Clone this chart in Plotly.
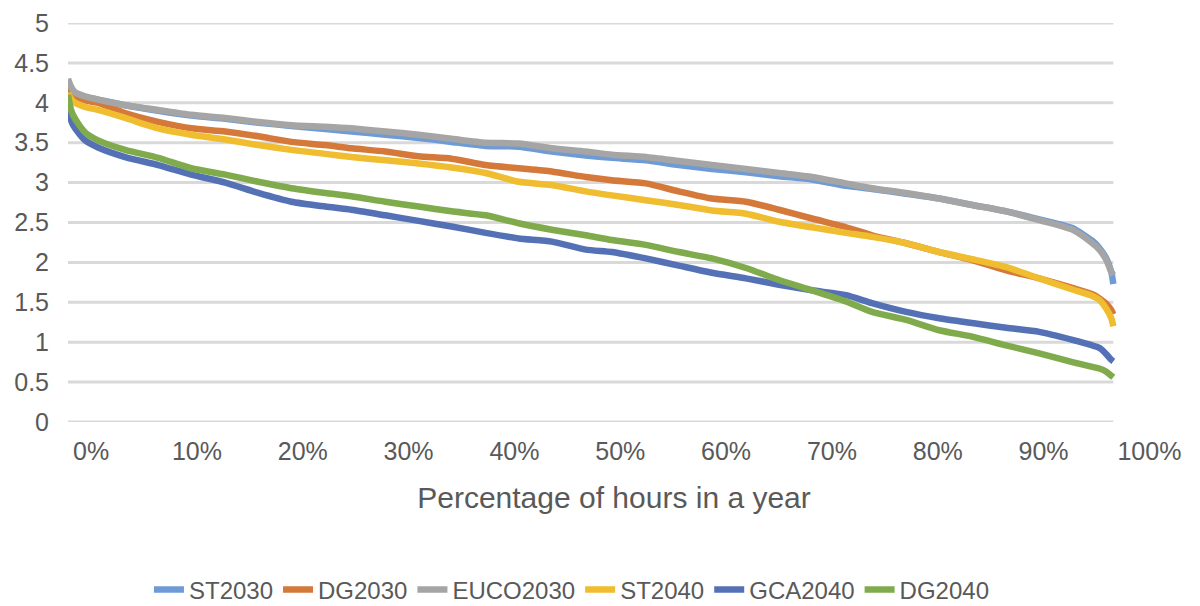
import plotly.graph_objects as go

# Percentage of hours in a year
X_PCT = [-2.18, -1.89, -1.51, -0.57, 0.66, 3.22, 6.34, 9.46, 12.68, 15.80,
         18.92, 22.14, 24.60, 27.81, 30.94, 34.06, 37.28, 40.40, 43.52, 46.74,
         49.20, 52.41, 55.53, 58.66, 61.87, 65.00, 68.12, 71.33, 73.79, 77.01,
         80.13, 83.25, 86.47, 89.59, 92.72, 94.61, 95.27, 95.93, 96.40, 96.59]

ST2030 = [4.25, 4.18, 4.12, 4.07, 4.04, 3.97, 3.90, 3.84, 3.80, 3.75,
          3.71, 3.67, 3.64, 3.60, 3.56, 3.51, 3.46, 3.45, 3.39, 3.34,
          3.31, 3.28, 3.22, 3.17, 3.13, 3.08, 3.04, 2.96, 2.92, 2.86,
          2.80, 2.72, 2.64, 2.54, 2.43, 2.27, 2.18, 2.05, 1.88, 1.73]

DG2030 = [4.22, 4.15, 4.08, 4.03, 4.00, 3.87, 3.76, 3.68, 3.64, 3.58,
          3.51, 3.47, 3.43, 3.39, 3.33, 3.30, 3.22, 3.18, 3.14, 3.07,
          3.03, 2.99, 2.89, 2.80, 2.76, 2.66, 2.55, 2.44, 2.34, 2.24,
          2.13, 2.03, 1.90, 1.80, 1.68, 1.60, 1.55, 1.48, 1.40, 1.35]

EUCO2030 = [4.30, 4.20, 4.13, 4.08, 4.04, 3.97, 3.91, 3.85, 3.81, 3.76,
            3.72, 3.70, 3.68, 3.64, 3.60, 3.55, 3.50, 3.49, 3.43, 3.39,
            3.35, 3.32, 3.27, 3.22, 3.17, 3.12, 3.07, 2.99, 2.93, 2.87,
            2.80, 2.72, 2.64, 2.53, 2.41, 2.24, 2.16, 2.03, 1.88, 1.84]

ST2040 = [4.12, 4.05, 4.00, 3.95, 3.91, 3.81, 3.68, 3.60, 3.54, 3.47,
          3.41, 3.36, 3.32, 3.28, 3.24, 3.19, 3.12, 3.01, 2.97, 2.89,
          2.84, 2.78, 2.72, 2.65, 2.61, 2.51, 2.44, 2.37, 2.32, 2.24,
          2.13, 2.04, 1.94, 1.80, 1.66, 1.58, 1.53, 1.42, 1.30, 1.20]

GCA2040 = [4.06, 3.78, 3.68, 3.53, 3.44, 3.32, 3.22, 3.10, 3.00, 2.87,
           2.76, 2.70, 2.66, 2.59, 2.52, 2.45, 2.37, 2.30, 2.26, 2.16,
           2.13, 2.05, 1.96, 1.87, 1.80, 1.72, 1.65, 1.59, 1.49, 1.38,
           1.30, 1.24, 1.18, 1.13, 1.03, 0.96, 0.93, 0.85, 0.78, 0.76]

DG2040 = [4.10, 3.91, 3.80, 3.63, 3.53, 3.41, 3.31, 3.18, 3.10, 3.01,
          2.93, 2.87, 2.83, 2.76, 2.70, 2.64, 2.59, 2.49, 2.41, 2.34,
          2.28, 2.22, 2.13, 2.05, 1.93, 1.78, 1.65, 1.51, 1.38, 1.28,
          1.15, 1.07, 0.96, 0.86, 0.75, 0.69, 0.67, 0.63, 0.58, 0.56]

SERIES_NAMES = ["ST2030", "DG2030", "EUCO2030", "ST2040", "GCA2040", "DG2040"]
SERIES_VALUES = [ST2030, DG2030, EUCO2030, ST2040, GCA2040, DG2040]
SERIES_COLORS = ["#6e9bd6", "#d5793a", "#a5a5a5", "#efbd2f", "#5571b6", "#80ab4c"]

X_TICKS = [0, 10, 20, 30, 40, 50, 60, 70, 80, 90, 100]
X_TICK_LABELS = ["0%", "10%", "20%", "30%", "40%", "50%",
                 "60%", "70%", "80%", "90%", "100%"]
Y_TICKS = [0, 0.5, 1, 1.5, 2, 2.5, 3, 3.5, 4, 4.5, 5]
Y_TICK_LABELS = ["0", "0.5", "1", "1.5", "2", "2.5", "3", "3.5", "4", "4.5", "5"]

FONT = "Liberation Sans, Arial, sans-serif"
TEXT_COLOR = "#595959"

fig = go.Figure()
for name, vals, col in zip(SERIES_NAMES, SERIES_VALUES, SERIES_COLORS):
    fig.add_trace(go.Scatter(
        x=X_PCT, y=vals, name=name, mode="lines",
        line=dict(color=col, width=6.5, shape="spline", smoothing=0.6),
    ))

# horizontal gridlines spanning the plotted data extent
for yv in Y_TICKS:
    fig.add_shape(type="line", xref="x", yref="y",
                  x0=X_PCT[0], x1=X_PCT[-1], y0=yv, y1=yv,
                  line=dict(color="#d9d9d9", width=3), layer="below")

# the page body has an 8px margin, so the figure is sized 8px smaller
fig.update_layout(
    width=1192, height=598,
    margin=dict(l=60, r=40, t=15, b=184, autoexpand=False),
    paper_bgcolor="white", plot_bgcolor="white",
    font=dict(family=FONT, color=TEXT_COLOR),
    showlegend=True,
    legend=dict(orientation="h", x=0.4615, xanchor="center", y=-0.421, yanchor="middle",
                font=dict(size=24, color=TEXT_COLOR), itemwidth=30, tracegroupgap=0),
    xaxis=dict(range=[X_PCT[0], 101], tickmode="array", tickvals=X_TICKS,
               ticktext=X_TICK_LABELS, automargin=False,
               showgrid=False, zeroline=False, showline=False, ticks="",
               tickfont=dict(size=25, color=TEXT_COLOR), ticklabelstandoff=12,
               title=dict(text="Percentage of hours in a year",
                          font=dict(size=30, color=TEXT_COLOR), standoff=22)),
    yaxis=dict(range=[0, 5], tickmode="array", tickvals=Y_TICKS, automargin=False,
               ticktext=Y_TICK_LABELS, showgrid=False, zeroline=False,
               showline=False, ticks="", tickfont=dict(size=25, color=TEXT_COLOR),
               ticklabelstandoff=18),
)

fig.write_html("out.html")
